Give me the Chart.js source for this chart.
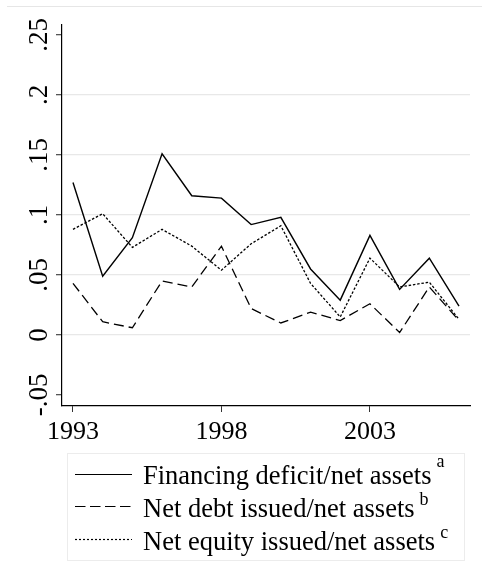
<!DOCTYPE html>
<html>
<head>
<meta charset="utf-8">
<script src="https://cdn.jsdelivr.net/npm/chart.js@4.4.1/dist/chart.umd.min.js"></script>
<style>
  html, body { margin: 0; padding: 0; background: #fff; }
  #wrap { position: relative; width: 482px; height: 580px; }
</style>
</head>
<body>
<div id="wrap"><canvas id="grafico"></canvas></div>
<script>
// --- Datos ---
const years = [1993, 1994, 1995, 1996, 1997, 1998, 1999, 2000, 2001, 2002, 2003, 2004, 2005, 2006];
const financingDeficit = [0.127, 0.049, 0.081, 0.151, 0.116, 0.114, 0.092, 0.098, 0.055, 0.029, 0.083, 0.038, 0.064, 0.024];
const netDebt = [0.043, 0.011, 0.006, 0.045, 0.040, 0.074, 0.022, 0.010, 0.019, 0.012, 0.026, 0.002, 0.040, 0.012];
const netEquity = [0.088, 0.101, 0.073, 0.088, 0.074, 0.054, 0.076, 0.091, 0.043, 0.015, 0.064, 0.040, 0.044, 0.013];

const seriesLabels = ['Financing deficit/net assets', 'Net debt issued/net assets', 'Net equity issued/net assets'];
const superscripts = ['a', 'b', 'c'];

const xTicks = [1993, 1998, 2003];
const yTicks = [-0.05, 0, 0.05, 0.1, 0.15, 0.2, 0.25];
const yTickLabels = ['-.05', '0', '.05', '.1', '.15', '.2', '.25'];

// --- Estilos ---
const SERIF = '"Liberation Serif", "Times New Roman", serif';

function toPoints(values) {
  return years.map((yr, i) => ({ x: yr, y: values[i] }));
}

// Etiquetas del eje Y giradas 90° (como en Stata)
const rotatedYLabels = {
  id: 'rotatedYLabels',
  afterDraw(chart) {
    const ctx = chart.ctx;
    const scale = chart.scales.y;
    ctx.save();
    ctx.fillStyle = '#000';
    ctx.font = '27px ' + SERIF;
    ctx.textAlign = 'center';
    ctx.textBaseline = 'alphabetic';
    yTicks.forEach((v, i) => {
      const py = scale.getPixelForValue(v);
      ctx.save();
      ctx.translate(47, py);
      ctx.rotate(-Math.PI / 2);
      ctx.fillText(yTickLabels[i], 0, 0);
      ctx.restore();
    });
    ctx.restore();
  }
};

// Línea gris superior + leyenda con superíndices
const stataLegend = {
  id: 'stataLegend',
  afterDraw(chart) {
    const ctx = chart.ctx;
    ctx.save();

    // línea fina arriba del todo
    ctx.strokeStyle = '#e6e6e6';
    ctx.lineWidth = 1;
    ctx.beginPath();
    ctx.moveTo(7, 6.5);
    ctx.lineTo(482, 6.5);
    ctx.stroke();

    // caja de la leyenda
    ctx.strokeStyle = '#ececec';
    ctx.strokeRect(67.5, 453.5, 397, 107);

    const baseY = 484;
    const step = 32.8;
    const supRaise = [17, 12, 12];
    chart.data.datasets.forEach((ds, i) => {
      const yb = baseY + i * step;
      const yl = Math.round(yb - 10.5) + 0.5;
      ctx.strokeStyle = '#000';
      ctx.lineWidth = 1.2;
      ctx.setLineDash(ds.legendDash || []);
      ctx.beginPath();
      ctx.moveTo(75, yl);
      ctx.lineTo(132, yl);
      ctx.stroke();
      ctx.setLineDash([]);

      ctx.fillStyle = '#000';
      ctx.textAlign = 'left';
      ctx.textBaseline = 'alphabetic';
      ctx.font = '26.5px ' + SERIF;
      ctx.fillText(ds.label, 143, yb);
      const w = ctx.measureText(ds.label).width;
      ctx.font = '18px ' + SERIF;
      ctx.fillText(superscripts[i], 143 + w + 5, yb - supRaise[i]);
    });
    ctx.restore();
  }
};

const ctxGrafico = document.getElementById('grafico').getContext('2d');

new Chart(ctxGrafico, {
  type: 'line',
  data: {
    datasets: [
      {
        label: seriesLabels[0],
        data: toPoints(financingDeficit),
        borderColor: '#000',
        borderWidth: 1.4,
        borderDash: [],
        legendDash: [],
        pointRadius: 0,
        tension: 0
      },
      {
        label: seriesLabels[1],
        data: toPoints(netDebt),
        borderColor: '#000',
        borderWidth: 1.3,
        borderDash: [10, 5],
        legendDash: [10.5, 4.5],
        pointRadius: 0,
        tension: 0
      },
      {
        label: seriesLabels[2],
        data: toPoints(netEquity),
        borderColor: '#000',
        borderWidth: 1.3,
        borderDash: [2.5, 1.8],
        legendDash: [2, 2],
        pointRadius: 0,
        tension: 0
      }
    ]
  },
  options: {
    responsive: true,
    maintainAspectRatio: false,
    animation: false,
    layout: { padding: { left: 0, top: 25, right: 12, bottom: 124 } },
    plugins: {
      legend: { display: false },
      tooltip: { enabled: false }
    },
    scales: {
      x: {
        type: 'linear',
        min: 1992.63,
        max: 2006.37,
        afterBuildTicks: (axis) => { axis.ticks = xTicks.map(v => ({ value: v })); },
        afterFit: (axis) => { axis.height = 50; },
        grid: { drawOnChartArea: false, drawTicks: true, tickLength: 6, tickColor: '#333' },
        border: { display: true, color: '#000', width: 1.2 },
        ticks: {
          color: '#000',
          font: { family: SERIF, size: 26 },
          padding: 5,
          maxRotation: 0,
          callback: (v) => String(v)
        }
      },
      y: {
        type: 'linear',
        min: -0.0592,
        max: 0.2583,
        afterBuildTicks: (axis) => { axis.ticks = yTicks.map(v => ({ value: v })); },
        afterFit: (axis) => { axis.width = 62; },
        grid: {
          color: (c) => (c.tick && c.tick.value > -0.01 && c.tick.value < 0.21) ? '#e8e8e8' : 'rgba(0,0,0,0)',
          lineWidth: 1.3,
          drawTicks: true,
          tickLength: 6,
          tickColor: '#555'
        },
        border: { display: true, color: '#000', width: 1.2 },
        ticks: { display: false }
      }
    }
  },
  plugins: [rotatedYLabels, stataLegend]
});
</script>
</body>
</html>
